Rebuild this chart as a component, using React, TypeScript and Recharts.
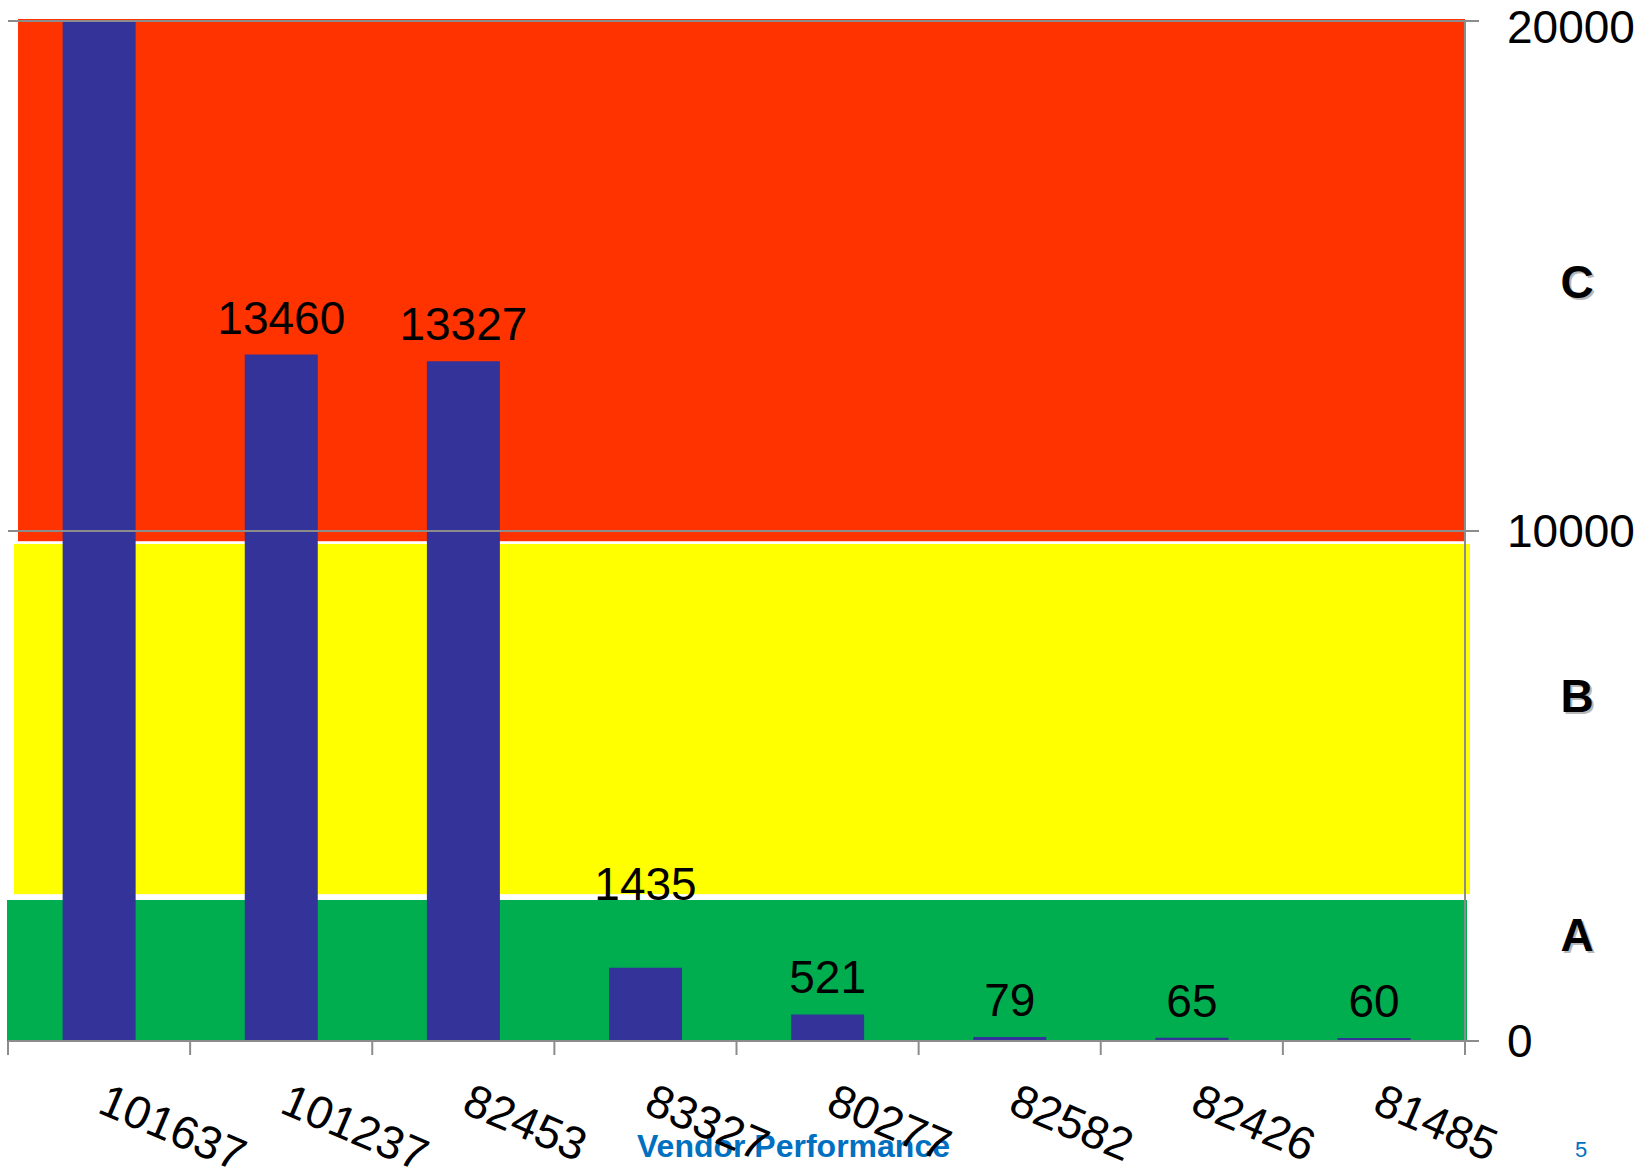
import React from 'react'
import { BarChart, Bar, XAxis, YAxis, ReferenceArea, ReferenceLine, LabelList } from 'recharts'

// vendor volumes
const vendors = ['101637', '101237', '82453', '83327', '80277', '82582', '82426', '81485']
const volumes = [26000, 13460, 13327, 1435, 521, 79, 65, 60]
const yTicks = [0, 10000, 20000]

// A / B / C classification bands
const bandNames = ['A', 'B', 'C']
const bandLow = [0, 2880, 9800]
const bandHigh = [2765, 9745, 20000]
const bandColors = ['#00AE50', '#FFFF00', '#FF3300']

const W = 1652
const H = 1168
const margin = { top: 21, right: 0, bottom: 0, left: 8 }
const yAxisW = 187
const xAxisH = 127
const plotW = W - margin.left - margin.right - yAxisW
const half = plotW / vendors.length / 2
const axisGrey = '#8c8c8c'
const font = '"Liberation Sans", Arial, sans-serif'

// small nudges so the bands sit like the pasted boxes in the original slide
const bandNudge = [
  { l: -1, r: 2, t: 0 },
  { l: 6, r: 5, t: 0 },
  { l: 10, r: 0, t: -2 },
]

const data = vendors.map((v, i) => ({ vendor: v, volume: volumes[i] }))

const bandShape = (i: number) => (p: any) => {
  const n = bandNudge[i]
  return (
    <rect
      x={p.x + n.l}
      y={p.y + n.t}
      width={p.width - n.l + n.r}
      height={p.height - n.t}
      fill={bandColors[i]}
      stroke="none"
    />
  )
}

const VendorTick = (props: any) => {
  const { x, y, payload, index } = props
  return (
    <g>
      <line x1={x - half} x2={x - half} y1={y} y2={y + 14} stroke={axisGrey} strokeWidth={2} />
      {index === vendors.length - 1 && (
        <line x1={x + half} x2={x + half} y1={y} y2={y + 14} stroke={axisGrey} strokeWidth={2} />
      )}
      <text
        transform={`translate(${x - 3},${y + 71}) rotate(23)`}
        textAnchor="start"
        fontSize={46}
        fill="#000"
      >
        {payload.value}
      </text>
    </g>
  )
}

const ValueLabel = (props: any) => {
  const vb = props.viewBox ?? props
  const value = props.value
  if (value > 20000) return null
  const idx = volumes.indexOf(value)
  const lift = idx === 3 ? 68 : 21
  return (
    <text x={vb.x + vb.width / 2} y={vb.y - lift} textAnchor="middle" fontSize={46} fill="#000">
      {value}
    </text>
  )
}

const classPos = [934, 695, 281]

export default function App() {
  return (
    <div style={{ position: 'absolute', left: 0, top: 0, width: W, height: H, fontFamily: font, background: '#fff', overflow: 'hidden' }}>
      {/* slide footer sits behind the chart */}
      <svg width={W} height={H} style={{ position: 'absolute', left: 0, top: 0 }}>
        <text x={637} y={1157} fontSize={32} fontWeight="bold" fill="#0070C0">Vendor Performance</text>
        <text x={1575} y={1157} fontSize={22} fill="#0070C0">5</text>
        {bandNames.map((b, i) => (
          <g key={b} fontSize={46} fontWeight="bold" textAnchor="middle">
            <text x={1579} y={classPos[i] + 19} fill="#9a9a9a" opacity={0.7}>{b}</text>
            <text x={1577} y={classPos[i] + 17} fill="#000">{b}</text>
          </g>
        ))}
      </svg>
      <div style={{ position: 'absolute', left: 0, top: 0 }}>
        <BarChart width={W} height={H} data={data} margin={margin} barCategoryGap="30%">
          <XAxis
            dataKey="vendor"
            height={xAxisH}
            tickSize={0}
            tickMargin={0}
            tickLine={false}
            axisLine={{ stroke: axisGrey, strokeWidth: 2 }}
            tick={<VendorTick />}
            interval={0}
          />
          <YAxis
            orientation="right"
            width={yAxisW}
            domain={[0, 20000]}
            ticks={yTicks}
            allowDataOverflow
            tickSize={14}
            tickMargin={28}
            axisLine={{ stroke: axisGrey, strokeWidth: 2 }}
            tickLine={{ stroke: axisGrey, strokeWidth: 2 }}
            tick={{ fill: '#000', fontSize: 46 }}
          />
          {bandNames.map((b, i) => (
            <ReferenceArea key={b} y1={bandLow[i]} y2={bandHigh[i]} shape={bandShape(i)} ifOverflow="visible" />
          ))}
          <ReferenceLine y={10000} stroke={axisGrey} strokeWidth={2} />
          <ReferenceLine y={20000} stroke={axisGrey} strokeWidth={2} />
          <Bar dataKey="volume" fill="#333399" isAnimationActive={false}>
            <LabelList dataKey="volume" content={<ValueLabel />} />
          </Bar>
        </BarChart>
      </div>
    </div>
  )
}
